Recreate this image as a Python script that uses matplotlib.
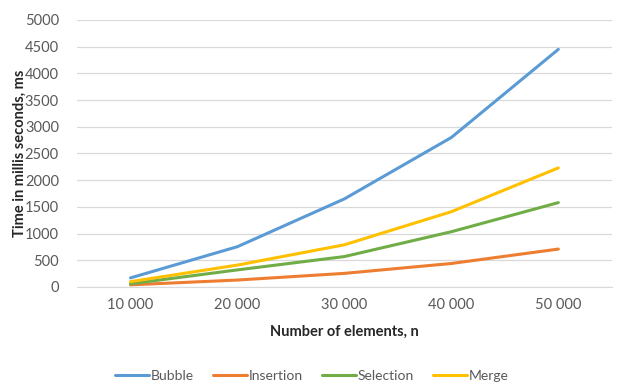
import matplotlib
matplotlib.use('Agg')
import matplotlib.pyplot as plt

sizes = ['10 000', '20 000', '30 000', '40 000', '50 000']
bubble = [170, 755, 1650, 2800, 4450]
insertion = [40, 130, 255, 440, 710]
selection = [60, 320, 570, 1035, 1580]
merge = [100, 410, 790, 1410, 2230]

series = [
    ('Bubble', bubble, '#5B9BD5'),
    ('Insertion', insertion, '#ED7D31'),
    ('Selection', selection, '#70AD47'),
    ('Merge', merge, '#FFC000'),
]

plt.rcParams['font.family'] = ['Lato', 'DejaVu Sans']

fig = plt.figure(figsize=(6.18, 3.83), dpi=100)
ax = fig.add_axes([0.1246, 0.2507, 0.8654, 0.6971])

x = list(range(len(sizes)))
for name, vals, color in series:
    ax.plot(x, vals, color=color, linewidth=2.2, label=name, solid_capstyle='round')

ax.set_xlim(-0.5, len(sizes) - 0.5)
ax.set_ylim(0, 5000)
ax.set_yticks(range(0, 5001, 500))
ax.set_xticks(x)
ax.set_xticklabels(sizes)
ax.grid(axis='y', color='#D9D9D9', linewidth=0.9)
ax.set_axisbelow(True)
for side in ['top', 'right', 'left']:
    ax.spines[side].set_visible(False)
ax.spines['bottom'].set_color('#D9D9D9')
ax.tick_params(length=0, colors='#595959', labelsize=10.5)
ax.tick_params(axis='x', pad=8)
ax.tick_params(axis='y', pad=13)

ax.set_xlabel('Number of elements, n', fontsize=10.5, fontweight='bold', color='#262626', labelpad=9)
ax.set_ylabel('Time in millis seconds, ms', fontsize=10.5, fontweight='bold', color='#262626')
ax.yaxis.set_label_coords(-0.093, 0.5)

fig.legend(loc='lower center', ncol=4, frameon=False, fontsize=10, labelcolor='#595959',
           bbox_to_anchor=(0.505, -0.03), handlelength=2.4, handletextpad=0.15, columnspacing=1.4)

fig.savefig('out.png', dpi=100)
